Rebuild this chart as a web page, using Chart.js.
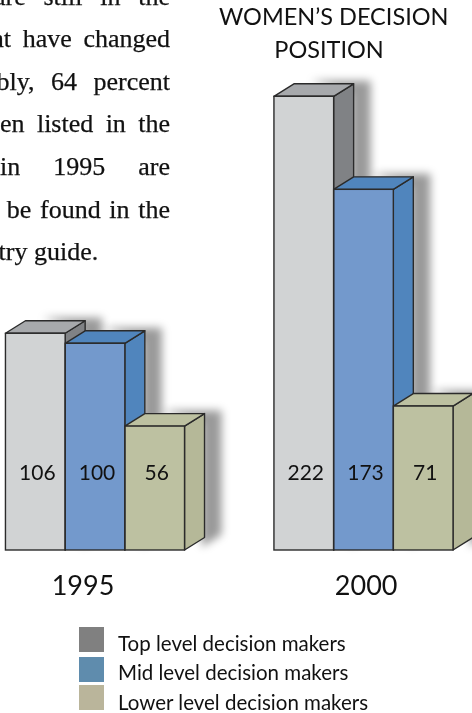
<!DOCTYPE html>
<html><head><meta charset="utf-8">
<script src="https://cdn.jsdelivr.net/npm/chart.js@4"></script>
<style>
html,body{margin:0;padding:0;background:#fff;width:472px;height:713px;overflow:hidden}
#wrap{position:relative;width:472px;height:713px;overflow:hidden}
canvas{position:absolute;left:0;top:0}
.para{position:absolute;left:0;top:0;width:170px;height:280px;overflow:hidden;font-family:"Liberation Serif",serif;font-size:26px;color:#111;-webkit-text-stroke:.25px #111}
.para div{position:absolute;white-space:nowrap;line-height:30px}
.title{position:absolute;font-family:Lato,sans-serif;font-size:23.5px;color:#111;white-space:nowrap;text-align:center;left:219px;width:220px;line-height:33px;top:0}
.leg{position:absolute;font-family:Lato,sans-serif;font-size:20.5px;color:#111;white-space:nowrap;line-height:24px;left:118px}
.sw{position:absolute;left:79px;width:25px;height:25px}
</style></head><body>
<div id="wrap">
<canvas id="c" width="472" height="713"></canvas>
<div class="para" id="para"></div>
<div class="title">WOMEN’S DECISION<br>POSITION</div>
<div id="legend"></div>
</div>
<script>
// Years and printed values
const years = [1995, 2000];
const seriesNames = ['Top level decision makers', 'Mid level decision makers', 'Lower level decision makers'];
const printedTop = [106, 222];
const printedMid = [100, 173];
const printedLower = [56, 71];
// Bar heights as drawn in the picture, in the same units (the reference's 56 bar is drawn a little taller than its label)
const drawnTop = [106, 221.9];
const drawnMid = [101.1, 176.4];
const drawnLower = [60.6, 70.4];
// Tick anchors: the year labels sit slightly off the group centres in the reference
const yearTickAnchors = [1994.777, 2000.05];
const legendColors = ['#808080', '#5f8cad', '#bab59b'];
const paragraphLines = [
  ['are still in the', 3.5, -6, true],
  ['that have changed', 46, -28, true],
  ['Notably, 64 percent', 88.7, -54, true],
  ['women listed in the', 131, -52, true],
  ['in 1995 are', 174, 0, true],
  ['can be found in the', 216.7, -38, true],
  ['country guide.', 259, -52, false]
];
const faces = [
  {front:'#d1d3d4', side:'#808285', top:'#a7a9ac'},
  {front:'#7399cc', side:'#5085bd', top:'#5085bd'},
  {front:'#bdc1a1', side:'#b5b898', top:'#bdc1a1'}
];
const INK = '#2b2b2b', DX = 20, DY = 12.5;

const para = document.getElementById('para');
paragraphLines.forEach(([t, base, left, just]) => {
  const d = document.createElement('div');
  d.textContent = t;
  d.style.top = (base - 22) + 'px';
  d.style.left = left + 'px';
  if (just) { d.style.width = (170 - left) + 'px'; d.style.whiteSpace = 'normal'; d.style.textAlign = 'justify'; d.style.textAlignLast = 'justify'; }
  para.appendChild(d);
});
const lg = document.getElementById('legend');
seriesNames.forEach((n, i) => {
  const tops = [627, 657, 685], ttops = [631, 660, 690];
  const s = document.createElement('div'); s.className = 'sw'; s.style.top = tops[i] + 'px'; s.style.background = legendColors[i]; lg.appendChild(s);
  const l = document.createElement('div'); l.className = 'leg'; l.style.top = ttops[i] + 'px'; l.textContent = n; lg.appendChild(l);
});

const bars3d = {
  id: 'bars3d',
  beforeDatasetsDraw(chart) {
    const c = chart.ctx;
    faces.forEach((f, i) => {
      chart.getDatasetMeta(i).data.forEach(b => {
        const l = b.x - b.width / 2, r = b.x + b.width / 2, t = b.y, bt = b.base;
        c.save();
        c.shadowColor = 'rgba(0,0,0,.4)'; c.shadowBlur = 8; c.shadowOffsetX = 17; c.shadowOffsetY = -3;
        c.fillStyle = '#999';
        c.beginPath(); c.moveTo(l + DX, t - DY); c.lineTo(r + DX, t - DY); c.lineTo(r + DX, bt - DY); c.lineTo(r, bt); c.lineTo(r, t); c.closePath(); c.fill();
        c.restore();
        c.save();
        c.lineWidth = 1.4; c.strokeStyle = INK; c.lineJoin = 'round';
        c.fillStyle = f.side;
        c.beginPath(); c.moveTo(r, t); c.lineTo(r + DX, t - DY); c.lineTo(r + DX, bt - DY); c.lineTo(r, bt); c.closePath(); c.fill(); c.stroke();
        c.fillStyle = f.top;
        c.beginPath(); c.moveTo(l, t); c.lineTo(l + DX, t - DY); c.lineTo(r + DX, t - DY); c.lineTo(r, t); c.closePath(); c.fill(); c.stroke();
        c.restore();
      });
    });
  },
  afterDatasetsDraw(chart) {
    const c = chart.ctx, printed = [printedTop, printedMid, printedLower];
    const y = chart.scales.y.getPixelForValue(37.5);
    c.save();
    c.lineWidth = 1.4; c.strokeStyle = INK;
    faces.forEach((f, i) => chart.getDatasetMeta(i).data.forEach(b => c.strokeRect(b.x - b.width / 2, b.y, b.width, b.base - b.y)));
    c.font = '21px Lato, sans-serif'; c.fillStyle = '#111'; c.textAlign = 'center'; c.textBaseline = 'middle';
    printed.forEach((vals, i) => {
      chart.getDatasetMeta(i).data.forEach((b, j) => c.fillText(String(vals[j]), b.x + 2, y));
    });
    c.restore();
  }
};

const pts = arr => arr.map((v, i) => ({x: years[i], y: v}));
const drawn = [drawnTop, drawnMid, drawnLower];
new Chart(document.getElementById('c'), {
  type: 'bar',
  data: {
    datasets: drawn.map((d, i) => ({
      label: seriesNames[i], data: pts(d), backgroundColor: faces[i].front, borderWidth: 0,
      barPercentage: 1, categoryPercentage: 0.667
    }))
  },
  plugins: [bars3d],
  options: {
    responsive: false, animation: false, events: [],
    layout: {padding: 0},
    plugins: {legend: {display: false}, title: {display: false}, tooltip: {enabled: false}},
    scales: {
      x: {
        type: 'linear', min: 1993.231, max: 2002.021, offset: false,
        grid: {display: false, drawTicks: false}, border: {display: false},
        afterBuildTicks(s) { s.ticks = yearTickAnchors.map(v => ({value: v})); },
        afterFit(s) { s.height = 163; s.paddingLeft = 0; s.paddingRight = 0; },
        ticks: {
          autoSkip: false, maxRotation: 0, padding: 20, color: '#111',
          font: {family: 'Lato, sans-serif', size: 27},
          callback: (v, i) => String(years[i])
        }
      },
      y: {display: false, min: 0, max: 269}
    }
  }
});
</script>
</body></html>
